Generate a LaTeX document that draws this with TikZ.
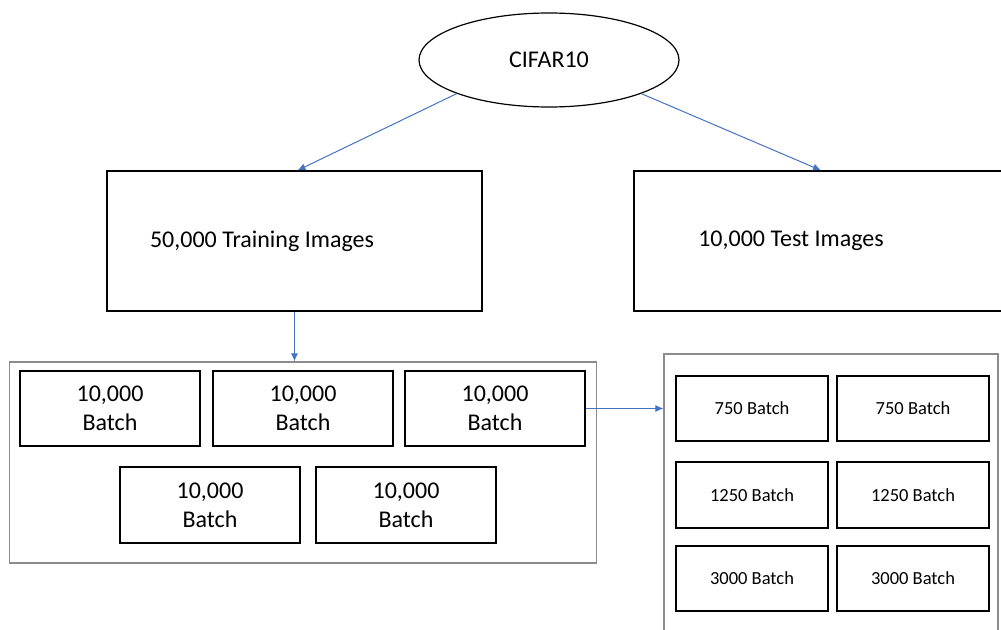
\documentclass[tikz,border=0pt]{standalone}
\usepackage{fontspec}
\setmainfont{Carlito}
\usetikzlibrary{arrows.meta,shapes.geometric}
\definecolor{flowblue}{HTML}{4472C4}
\definecolor{framegray}{HTML}{8C8C8C}
\tikzset{
  box/.style={draw=black,line width=1.2pt,rectangle,inner sep=0pt,align=center},
  bigtext/.style={font=\fontsize{24}{29}\selectfont},
  smalltext/.style={font=\fontsize{18.5}{22}\selectfont},
  frame/.style={draw=framegray,line width=1.4pt,rectangle,inner sep=0pt},
  flow/.style={draw=flowblue,line width=1pt,-{Latex[length=8pt,width=7pt]}},
}
\begin{document}
\begin{tikzpicture}[x=1pt,y=-1pt]
\useasboundingbox (0,0) rectangle (1001,629);
\clip (0,0) rectangle (1001,629);

% root of the tree
\node[draw=black,line width=1.2pt,ellipse,minimum width=260pt,minimum height=94pt,inner sep=0pt,bigtext] (cifar) at (549,60) {CIFAR10};

% train / test split
\node[box,minimum width=375pt,minimum height=140pt] (train) at (294.5,241) {};
\node[bigtext] (trainlbl) at (262,241) {50,000 Training Images};
\node[box,minimum width=368pt,minimum height=140pt] (test) at (818,241) {};
\node[bigtext] (testlbl) at (791,241) {10,000 Test Images};

% training batches
\node[frame,minimum width=587pt,minimum height=201pt] (lc) at (303,462.5) {};
\node[box,bigtext,minimum width=180pt,minimum height=75pt] (b1) at (110,408.5) {10,000\\Batch};
\node[box,bigtext,minimum width=180pt,minimum height=75pt] (b2) at (303,408.5) {10,000\\Batch};
\node[box,bigtext,minimum width=180pt,minimum height=75pt] (b3) at (495,408.5) {10,000\\Batch};
\node[box,bigtext,minimum width=180pt,minimum height=76pt] (b4) at (210,505) {10,000\\Batch};
\node[box,bigtext,minimum width=180pt,minimum height=76pt] (b5) at (406,505) {10,000\\Batch};

% sub-batches
\node[frame,minimum width=334pt,minimum height=300pt] (rc) at (831,504) {};
\node[box,smalltext,minimum width=152pt,minimum height=65pt] (s1) at (752,408.5) {750 Batch};
\node[box,smalltext,minimum width=152pt,minimum height=65pt] (s2) at (913,408.5) {750 Batch};
\node[box,smalltext,minimum width=152pt,minimum height=66pt] (s3) at (752,495) {1250 Batch};
\node[box,smalltext,minimum width=152pt,minimum height=66pt] (s4) at (913,495) {1250 Batch};
\node[box,smalltext,minimum width=152pt,minimum height=65pt] (s5) at (752,578.5) {3000 Batch};
\node[box,smalltext,minimum width=152pt,minimum height=65pt] (s6) at (913,578.5) {3000 Batch};

% connectors
\draw[flow] (cifar.south west) -- ([xshift=3pt]train.north);
\draw[flow] (cifar.south east) -- ([xshift=3pt]test.north);
\draw[flow] (train.south) -- (lc.north -| train.south);
\draw[flow] (b3.east) -- (rc.west |- b3.east);
\end{tikzpicture}
\end{document}
